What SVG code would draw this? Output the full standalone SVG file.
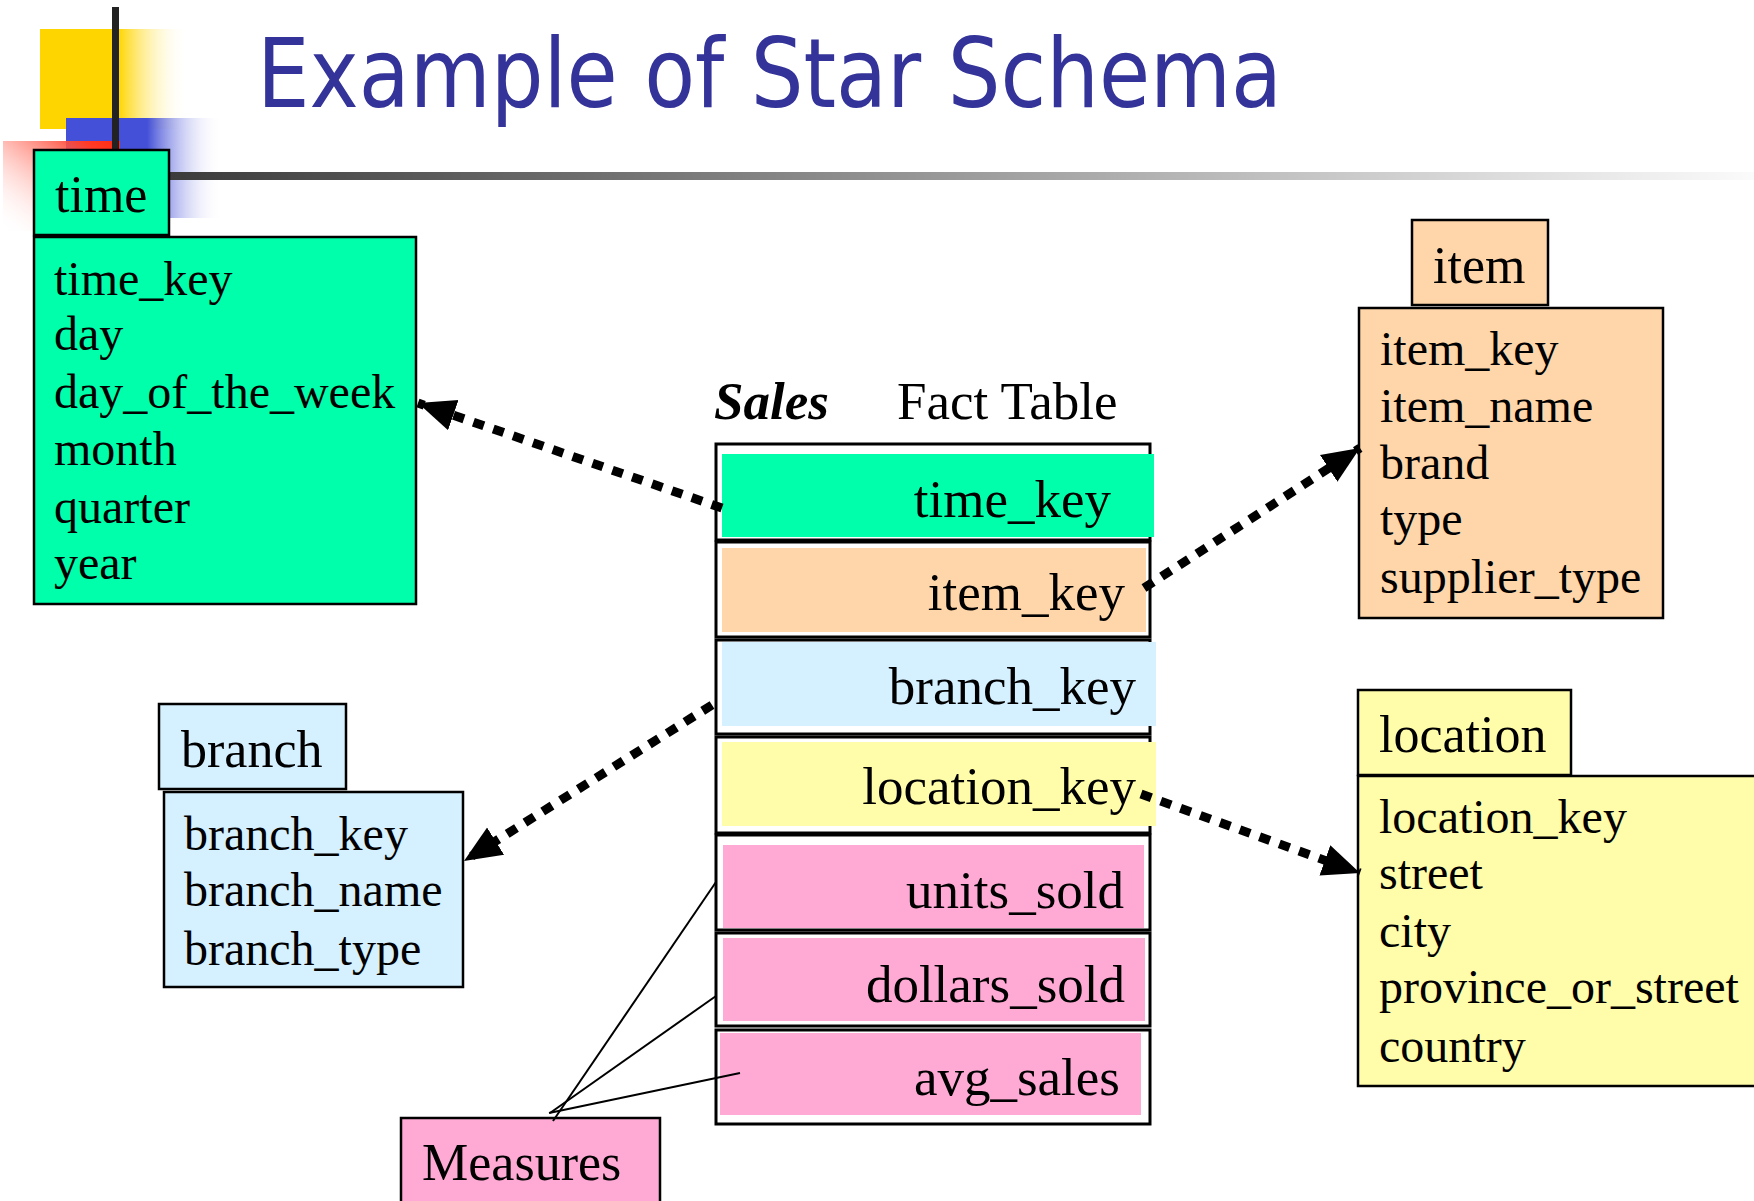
<svg xmlns="http://www.w3.org/2000/svg" width="1754" height="1201" viewBox="0 0 1754 1201">
  <defs>
    <linearGradient id="gYellow" x1="0" y1="0" x2="1" y2="0">
      <stop offset="0" stop-color="#FFD500"/>
      <stop offset="0.53" stop-color="#FFD500"/>
      <stop offset="1" stop-color="#FFFFFF" stop-opacity="0"/>
    </linearGradient>
    <linearGradient id="gBlue" x1="0" y1="0" x2="1" y2="0">
      <stop offset="0" stop-color="#4450D8"/>
      <stop offset="0.52" stop-color="#4450D8"/>
      <stop offset="1" stop-color="#FFFFFF" stop-opacity="0"/>
    </linearGradient>
    <linearGradient id="gRed" x1="1" y1="0" x2="0" y2="1">
      <stop offset="0" stop-color="#FF2A10"/>
      <stop offset="0.15" stop-color="#FF3A25"/>
      <stop offset="1" stop-color="#FFFFFF" stop-opacity="0"/>
    </linearGradient>
    <linearGradient id="gRule" x1="0" y1="0" x2="1" y2="0">
      <stop offset="0" stop-color="#3A3A3A"/>
      <stop offset="1" stop-color="#FBFBFB"/>
    </linearGradient>
    <marker id="arrow" markerUnits="userSpaceOnUse" markerWidth="40" markerHeight="40" viewBox="0 0 30 30" refX="28" refY="15" orient="auto">
      <path d="M0,3 L28,15 L0,27 Z" fill="#000"/>
    </marker>
    <style>
      .t { font-family: "Liberation Serif", "Times New Roman", serif; fill: #000; }
      .head { font-size: 52px; }
      .body { font-size: 48px; }
      .key { font-size: 53px; text-anchor: end; }
      .box { stroke: #000; stroke-width: 2.5; }
      .cell { fill: #fff; stroke: #000; stroke-width: 3; }
      .green { fill: #00FFAA; }
      .peach { fill: #FFD6AA; }
      .blue { fill: #D5F0FF; }
      .yellow { fill: #FFFCAA; }
      .pink { fill: #FFAAD5; }
      .dots { stroke: #000; stroke-width: 9; stroke-dasharray: 11 10; fill: none; marker-end: url(#arrow); }
      .thin { stroke: #000; stroke-width: 2; fill: none; }
    </style>
  </defs>

  <rect width="1754" height="1201" fill="#fff"/>

  <!-- slide decoration -->
  <g id="decoration">
    <rect x="40" y="29" width="148" height="100" fill="url(#gYellow)"/>
    <rect x="66" y="118" width="156" height="100" fill="url(#gBlue)"/>
    <rect x="3" y="141" width="117" height="90" fill="url(#gRed)"/>
    <rect x="112" y="7" width="7" height="145" fill="#222"/>
    <rect x="160" y="172" width="1594" height="8" fill="url(#gRule)"/>
  </g>

  <text x="257" y="107" font-family="DejaVu Sans, Verdana, sans-serif" font-size="97" fill="#333399" textLength="1025" lengthAdjust="spacingAndGlyphs">Example of Star Schema</text>

  <!-- time dimension -->
  <g id="time">
    <rect class="box green" x="34" y="150" width="135" height="85"/>
    <text class="t head" x="55" y="212">time</text>
    <rect class="box green" x="34" y="237" width="382" height="367"/>
    <text class="t body" x="54" y="295">time_key</text>
    <text class="t body" x="54" y="350">day</text>
    <text class="t body" x="54" y="408">day_of_the_week</text>
    <text class="t body" x="54" y="465">month</text>
    <text class="t body" x="54" y="523">quarter</text>
    <text class="t body" x="54" y="579">year</text>
  </g>

  <!-- item dimension -->
  <g id="item">
    <rect class="box peach" x="1412" y="220" width="136" height="85"/>
    <text class="t head" x="1433" y="283">item</text>
    <rect class="box peach" x="1359" y="308" width="304" height="310"/>
    <text class="t body" x="1380" y="365">item_key</text>
    <text class="t body" x="1380" y="422">item_name</text>
    <text class="t body" x="1380" y="479">brand</text>
    <text class="t body" x="1380" y="535">type</text>
    <text class="t body" x="1380" y="593">supplier_type</text>
  </g>

  <!-- branch dimension -->
  <g id="branch">
    <rect class="box blue" x="159" y="704" width="187" height="85"/>
    <text class="t head" x="181" y="767">branch</text>
    <rect class="box blue" x="164" y="792" width="299" height="195"/>
    <text class="t body" x="184" y="850">branch_key</text>
    <text class="t body" x="184" y="906">branch_name</text>
    <text class="t body" x="184" y="965">branch_type</text>
  </g>

  <!-- location dimension -->
  <g id="location">
    <rect class="box yellow" x="1358" y="690" width="213" height="85"/>
    <text class="t head" x="1379" y="752">location</text>
    <rect class="box yellow" x="1358" y="776" width="410" height="310"/>
    <text class="t body" x="1379" y="833">location_key</text>
    <text class="t body" x="1379" y="889">street</text>
    <text class="t body" x="1379" y="947">city</text>
    <text class="t body" x="1379" y="1003">province_or_street</text>
    <text class="t body" x="1379" y="1062">country</text>
  </g>

  <!-- sales fact table -->
  <g id="sales">
    <text class="t" x="714" y="419" font-size="53" font-weight="bold" font-style="italic">Sales</text>
    <text class="t" x="897" y="419" font-size="53">Fact Table</text>
    <rect class="cell" x="716" y="444" width="434" height="96"/>
    <rect class="cell" x="716" y="542" width="434" height="95"/>
    <rect class="cell" x="716" y="640" width="434" height="94"/>
    <rect class="cell" x="716" y="737" width="434" height="96"/>
    <rect class="cell" x="716" y="835" width="434" height="95"/>
    <rect class="cell" x="716" y="933" width="434" height="93"/>
    <rect class="cell" x="716" y="1030" width="434" height="94"/>
    <rect class="green" x="722" y="454" width="432" height="83"/>
    <rect class="peach" x="722" y="548" width="424" height="84"/>
    <rect class="blue" x="722" y="642" width="434" height="84"/>
    <rect class="yellow" x="722" y="742" width="434" height="84"/>
    <rect class="pink" x="723" y="845" width="421" height="83"/>
    <rect class="pink" x="723" y="938" width="422" height="83"/>
    <rect class="pink" x="720" y="1033" width="421" height="82"/>
    <text class="t key" x="1111" y="517">time_key</text>
    <text class="t key" x="1125" y="610">item_key</text>
    <text class="t key" x="1136" y="704">branch_key</text>
    <text class="t key" x="1136" y="804">location_key</text>
    <text class="t key" x="1124" y="908">units_sold</text>
    <text class="t key" x="1125" y="1002">dollars_sold</text>
    <text class="t key" x="1120" y="1095">avg_sales</text>
  </g>

  <!-- measures callout -->
  <g id="measures">
    <rect class="box pink" x="401" y="1118" width="259" height="100"/>
    <text class="t head" x="422" y="1180">Measures</text>
  </g>

  <!-- connectors -->
  <g id="connectors">
    <line class="dots" x1="722" y1="508" x2="418" y2="403"/>
    <line class="dots" x1="1144" y1="588" x2="1360" y2="448"/>
    <line class="dots" x1="712" y1="705" x2="464" y2="861"/>
    <line class="dots" x1="1141" y1="794" x2="1360" y2="873"/>
    <line class="thin" x1="716" y1="882" x2="553" y2="1121"/>
    <line class="thin" x1="716" y1="996" x2="550" y2="1113"/>
    <line class="thin" x1="740" y1="1073" x2="549" y2="1113"/>
  </g>
</svg>
